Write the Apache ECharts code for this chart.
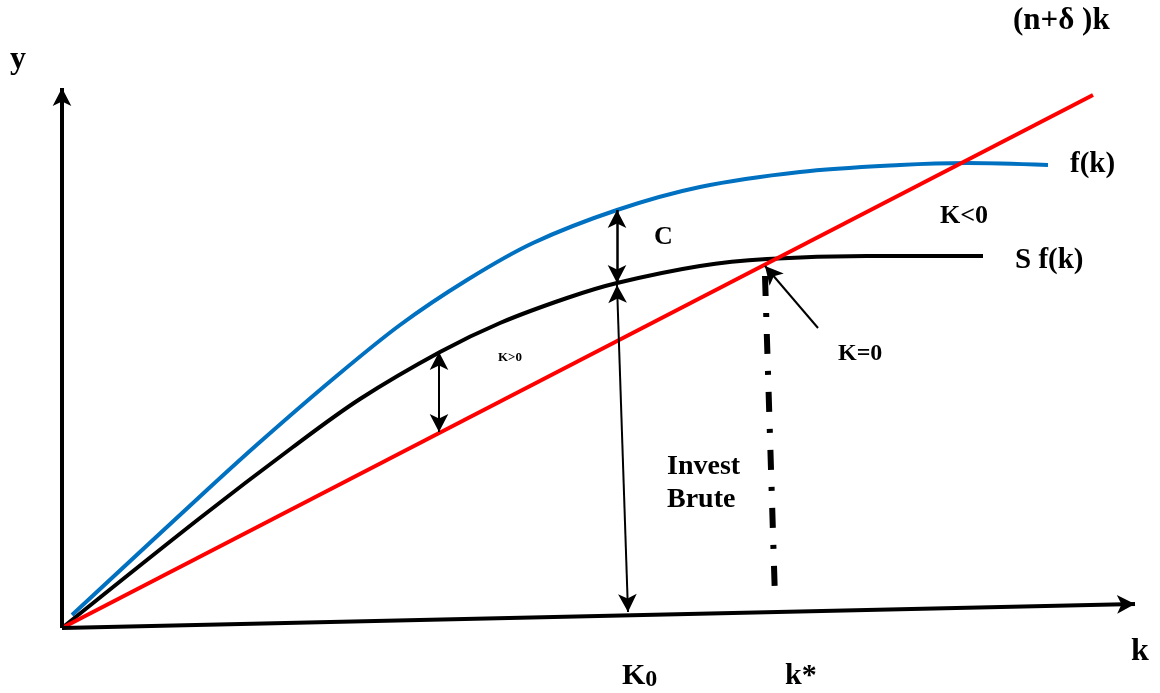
<!DOCTYPE html>
<html lang="fr">
<head>
    <meta charset="UTF-8">
    <title>Modèle de Solow</title>
    <style>
        body { margin: 0; background: #fff; }
    </style>
</head>
<body>
<div id="demo" style="width: 1160px;height: 693px;"></div>
<script src="https://cdn.jsdelivr.net/npm/echarts@6/dist/echarts.min.js"></script>
<script>
    /* k et y mesurés depuis l'origine du schéma */
    var fk = [[10, 13], [145, 138], [198, 186], [271, 249], [338, 303], [405, 348], [471, 385],
        [555, 418], [638, 441], [738, 456], [838, 463], [905, 465], [986, 463]];
    var sfk = [[0, 0], [138, 110], [231, 181], [298, 229], [378, 276], [438, 305], [505, 330],
        [555, 345], [638, 362], [705, 369], [805, 372], [921, 372]];
    var depreciation = [[0, 0], [1031, 533]];
    /* flèches et pointillés */
    var axisY = [[0, 0], [0, 540]];
    var axisX = [[0, 0], [1073, 24]];
    var arrowC = [[555, 418], [555, 345]];
    var arrowKpos = [[377, 276], [377, 196]];
    var arrowInvest = [[555, 343], [566, 16]];
    var arrowKzero = [[756, 300], [703, 362]];
    var kStar = [[703, 352], [713, 30]];

    function seg(p, style, sym) {
        return [{coord: p[0], symbol: sym[0], lineStyle: style}, {coord: p[1], symbol: sym[1]}];
    }

    var chart = echarts.init(document.getElementById('demo'));
    var font = '"Liberation Serif", "Times New Roman", serif';
    function txt(x, y, s, size, extra) {
        var st = {text: s, font: 'bold ' + size + 'px ' + font, fill: '#000'};
        for (var key in extra) st[key] = extra[key];
        return {type: 'text', left: x, top: y, style: st};
    }
    var option = {
        animation: false,
        grid: {left: 0, top: 0, right: 0, bottom: 0},
        xAxis: {type: 'value', min: -62, max: 1098, show: false},
        yAxis: {type: 'value', min: -65, max: 628, show: false},
        series: [
            {
                type: 'line', data: fk, smooth: 0.33, showSymbol: false,
                lineStyle: {color: '#0070C0', width: 4}, z: 3
            },
            {
                type: 'line', data: sfk, smooth: 0.33, showSymbol: false,
                lineStyle: {color: '#000', width: 4}, z: 3
            },
            {
                type: 'line', data: depreciation, showSymbol: false,
                lineStyle: {color: '#FF0000', width: 4}, z: 4
            },
            {
                type: 'line', data: kStar, showSymbol: false,
                lineStyle: {color: '#000', width: 6, type: [20, 17, 4, 17], cap: 'butt'}, z: 2
            },
            {
                type: 'line', data: [], silent: true,
                markLine: {
                    silent: true,
                    label: {show: false},
                    emphasis: {disabled: true},
                    symbolSize: [14, 18],
                    data: [
                        seg(axisY, {color: '#000', width: 4, type: 'solid'}, ['none', 'arrow']),
                        seg(axisX, {color: '#000', width: 4, type: 'solid'}, ['none', 'arrow']),
                        seg(arrowC, {color: '#000', width: 2.5, type: 'solid'}, ['arrow', 'arrow']),
                        seg(arrowKpos, {color: '#000', width: 2, type: 'solid'}, ['arrow', 'arrow']),
                        seg(arrowInvest, {color: '#000', width: 2, type: 'solid'}, ['arrow', 'arrow']),
                        seg(arrowKzero, {color: '#000', width: 2, type: 'solid'}, ['none', 'arrow'])
                    ]
                }
            }
        ],
        graphic: [
            txt(10, 44, 'y', 32),
            txt(1131, 636, 'k', 32),
            txt(1013, 5, '(n+δ )k', 31),
            txt(1070, 150, 'f(k)', 29),
            txt(1015, 246, 'S f(k)', 29),
            txt(940, 203, 'K<0', 26),
            txt(654, 224, 'C', 26),
            txt(498, 351, 'K>0', 13),
            txt(838, 342, 'K=0', 24),
            txt(667, 450, 'Invest\nBrute', 28, {lineHeight: 33}),
            {
                type: 'text', left: 622, top: 661,
                style: {
                    text: '{a|K}{b|0}', fill: '#000',
                    rich: {
                        a: {font: 'bold 30px ' + font, verticalAlign: 'bottom'},
                        b: {font: 'bold 24px ' + font, verticalAlign: 'bottom', padding: [0, 0, -1, 0]}
                    }
                }
            },
            txt(785, 661, 'k*', 30)
        ]
    };
    chart.setOption(option);
</script>
</body>
</html>
